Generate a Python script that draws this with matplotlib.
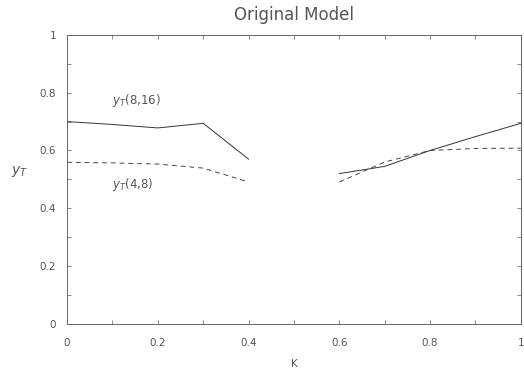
import numpy as np
import matplotlib
matplotlib.use("Agg")
import matplotlib.pyplot as plt
from matplotlib.ticker import MultipleLocator

# yT curves, left and right branches (gap between 0.4 and 0.6)
k_left = [0.0, 0.1, 0.2, 0.3, 0.4]
k_right = [0.6, 0.7, 0.8, 0.9, 1.0]
y816_left = [0.700, 0.690, 0.678, 0.694, 0.570]
y816_right = [0.520, 0.545, 0.600, 0.648, 0.694]
y48_left = [0.559, 0.557, 0.553, 0.539, 0.491]
y48_right = [0.491, 0.560, 0.600, 0.607, 0.608]

ticks = [0, 0.2, 0.4, 0.6, 0.8, 1]
tick_labels = ['0', '0.2', '0.4', '0.6', '0.8', '1']

txt = '#555555'
plt.rcParams['font.family'] = 'DejaVu Sans'

fig = plt.figure(figsize=(5.24, 3.71), dpi=100)
ax = fig.add_axes([0.128, 0.127, 0.866, 0.779])

ax.plot(k_left, y816_left, color='#333333', lw=0.7)
ax.plot(k_right, y816_right, color='#333333', lw=0.7)
ax.plot(k_left, y48_left, color='#444444', lw=0.7, dashes=(5, 4))
ax.plot(k_right, y48_right, color='#444444', lw=0.7, dashes=(5, 4))

ax.text(0.1, 0.76, r'$y_T$(8,16)', color=txt, fontsize=8.5)
ax.text(0.1, 0.47, r'$y_T$(4,8)', color=txt, fontsize=8.5)

ax.set_xlim(0, 1)
ax.set_ylim(0, 1)
ax.set_xticks(ticks, tick_labels)
ax.set_yticks(ticks, tick_labels)
ax.xaxis.set_minor_locator(MultipleLocator(0.1))
ax.yaxis.set_minor_locator(MultipleLocator(0.1))
ax.tick_params(which='both', direction='in', top=True, right=True,
               length=3, width=0.6, color='#777777', labelcolor=txt,
               labelsize=7.5)
ax.tick_params(axis='x', pad=10)
ax.tick_params(axis='y', pad=8)
for s in ax.spines.values():
    s.set_linewidth(0.7)
    s.set_color('#666666')

ax.set_title('Original Model', color=txt, fontsize=12, pad=11)
ax.set_xlabel('K', color=txt, fontsize=7.5, labelpad=8)
ax.set_ylabel(r'$y_T$', color=txt, fontsize=10, rotation=0, labelpad=14)

fig.savefig('out.png', dpi=100)
